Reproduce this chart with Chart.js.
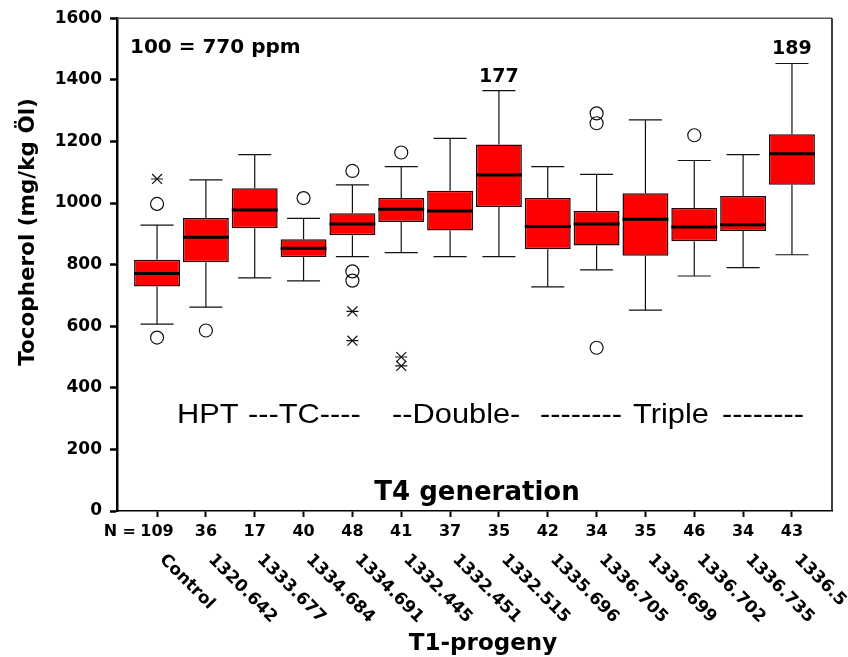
<!DOCTYPE html>
<html>
<head>
<meta charset="utf-8">
<script src="https://cdn.jsdelivr.net/npm/chart.js@4.4.1/dist/chart.umd.min.js"></script>
<style>
  html, body { margin: 0; padding: 0; background: #fff; }
  #wrap { width: 848px; height: 657px; }
</style>
</head>
<body>
<div id="wrap"><canvas id="graphique"></canvas></div>
<script>
// T1 progeny lines and sample sizes
var labels = ["Control", "1320.642", "1333.677", "1334.684", "1334.691", "1332.445", "1332.451",
  "1332.515", "1335.696", "1336.705", "1336.699", "1336.702", "1336.735", "1336.5"];
var nCounts = [109, 36, 17, 40, 48, 41, 37, 35, 42, 34, 35, 46, 34, 43];

// box statistics (mg/kg oil)
var q1 = [729, 808, 918, 825, 895, 938, 911, 987, 850, 862, 829, 876, 909, 1059];
var median = [771, 889, 977, 853, 932, 980, 974, 1091, 924, 932, 947, 922, 929, 1160];
var q3 = [816, 951, 1048, 882, 967, 1016, 1040, 1190, 1016, 974, 1032, 984, 1023, 1223];
var whiskLo = [607, 662, 757, 747, 826, 839, 826, 826, 728, 783, 652, 763, 790, 832];
var whiskHi = [928, 1075, 1157, 950, 1059, 1118, 1210, 1365, 1118, 1093, 1270, 1138, 1157, 1453];

// outliers [line index, value]
var circleOutliers = [[0, 997], [0, 563], [1, 586], [3, 1016], [4, 1104], [4, 778], [4, 748],
  [5, 1164], [9, 1291], [9, 1259], [9, 530], [11, 1220]];
var starOutliers = [[0, 1078], [4, 648], [4, 553], [5, 500], [5, 471]];

// relative values written above two whiskers
var topIdx = [7, 13];
var topText = ["177", "189"];

var yTicks = [0, 200, 400, 600, 800, 1000, 1200, 1400, 1600];

var boxData = labels.map(function (l, i) { return { x: i, y: [q1[i], q3[i]] }; });
var circlePts = circleOutliers.map(function (p) { return { x: p[0], y: p[1] }; });
var starPts = starOutliers.map(function (p) { return { x: p[0], y: p[1] }; });

function bold(s) { return "bold " + s + "px 'DejaVu Sans'"; }

var boxPlugin = {
  id: "boxplot",
  beforeDatasetsDraw: function (chart) {
    var ctx = chart.ctx;
    var xs = chart.scales.x, ys = chart.scales.y;
    var bars = chart.getDatasetMeta(0).data;
    ctx.save();
    ctx.strokeStyle = "#111";
    ctx.lineWidth = 1.2;
    for (var i = 0; i < labels.length; i++) {
      var x = xs.getPixelForValue(i);
      var cap = bars[i].width * 0.72 / 2;
      ctx.beginPath();
      ctx.moveTo(x, ys.getPixelForValue(q3[i]));
      ctx.lineTo(x, ys.getPixelForValue(whiskHi[i]));
      ctx.moveTo(x - cap, ys.getPixelForValue(whiskHi[i]));
      ctx.lineTo(x + cap, ys.getPixelForValue(whiskHi[i]));
      ctx.moveTo(x, ys.getPixelForValue(q1[i]));
      ctx.lineTo(x, ys.getPixelForValue(whiskLo[i]));
      ctx.moveTo(x - cap, ys.getPixelForValue(whiskLo[i]));
      ctx.lineTo(x + cap, ys.getPixelForValue(whiskLo[i]));
      ctx.stroke();
    }
    ctx.restore();
  },
  afterDatasetsDraw: function (chart) {
    var ctx = chart.ctx;
    var xs = chart.scales.x, ys = chart.scales.y;
    var a = chart.chartArea;
    var bars = chart.getDatasetMeta(0).data;
    ctx.save();
    // medians
    ctx.strokeStyle = "#000";
    ctx.lineWidth = 3;
    for (var i = 0; i < labels.length; i++) {
      var x = xs.getPixelForValue(i);
      var hw = bars[i].width / 2;
      var y = ys.getPixelForValue(median[i]);
      ctx.beginPath();
      ctx.moveTo(x - hw, y);
      ctx.lineTo(x + hw, y);
      ctx.stroke();
    }
    // frame top and right
    ctx.lineWidth = 1.5;
    ctx.strokeStyle = "#555";
    ctx.beginPath();
    ctx.moveTo(a.left, a.top);
    ctx.lineTo(a.right, a.top);
    ctx.stroke();
    ctx.strokeStyle = "#000";
    ctx.beginPath();
    ctx.moveTo(a.right, a.top);
    ctx.lineTo(a.right, a.bottom);
    ctx.stroke();

    ctx.fillStyle = "#000";
    ctx.textBaseline = "alphabetic";
    // values above whiskers
    ctx.font = bold(19);
    ctx.textAlign = "center";
    for (var k = 0; k < topIdx.length; k++) {
      var j = topIdx[k];
      ctx.fillText(topText[k], xs.getPixelForValue(j), ys.getPixelForValue(whiskHi[j]) - 9);
    }
    // reference note
    ctx.textAlign = "left";
    ctx.font = bold(20);
    ctx.fillText("100 = 770 ppm", a.left + 13, a.top + 35);
    // group labels (slightly wide, like the original)
    ctx.font = "28px 'Liberation Sans'";
    var segs = [["HPT", 177], ["---TC----", 248], ["--Double-", 392], ["--------", 540], ["Triple", 633], ["--------", 722]];
    segs.forEach(function (s) {
      ctx.save();
      ctx.translate(s[1], 423);
      ctx.scale(1.1, 1);
      ctx.fillText(s[0], 0, 0);
      ctx.restore();
    });
    // T4 generation
    ctx.textAlign = "center";
    ctx.font = bold(26);
    ctx.fillText("T4 generation", 477, 500);
    // N =
    ctx.textAlign = "right";
    ctx.textBaseline = "middle";
    ctx.font = bold(16);
    ctx.fillText("N =", 136, 532);
    // rotated line names
    ctx.textAlign = "left";
    ctx.font = bold(17);
    for (var m = 0; m < labels.length; m++) {
      ctx.save();
      ctx.translate(xs.getPixelForValue(m) + 5, 557);
      ctx.rotate(Math.PI / 4);
      ctx.fillText(labels[m], 0, 0);
      ctx.restore();
    }
    // axis titles
    ctx.textAlign = "center";
    ctx.textBaseline = "alphabetic";
    ctx.font = bold(23);
    ctx.fillText("T1-progeny", 483, 650);
    ctx.save();
    ctx.translate(28, 232);
    ctx.rotate(-Math.PI / 2);
    ctx.textBaseline = "middle";
    ctx.font = bold(21.5);
    ctx.fillText("Tocopherol (mg/kg Öl)", 0, 0);
    ctx.restore();
    ctx.restore();
  }
};

new Chart(document.getElementById("graphique"), {
  type: "bar",
  data: {
    datasets: [
      {
        label: "box",
        data: boxData,
        backgroundColor: "#ff0000",
        borderColor: "#2a0000",
        borderWidth: 1.5,
        borderSkipped: false,
        barPercentage: 0.94,
        categoryPercentage: 1.0,
        order: 2
      },
      {
        type: "scatter",
        label: "circles",
        data: circlePts,
        pointStyle: "circle",
        pointRadius: 6.5,
        pointBackgroundColor: "rgba(255,255,255,0)",
        pointBorderColor: "#111",
        pointBorderWidth: 1.2,
        order: 1
      },
      {
        type: "scatter",
        label: "stars",
        data: starPts,
        pointStyle: "crossRot",
        pointRadius: 7,
        pointBorderColor: "#111",
        pointBorderWidth: 1.2,
        order: 1
      },
      {
        type: "scatter",
        label: "stars2",
        data: starPts,
        pointStyle: "line",
        pointRadius: 6,
        pointBorderColor: "#111",
        pointBorderWidth: 1.2,
        order: 1
      }
    ]
  },
  options: {
    responsive: true,
    maintainAspectRatio: false,
    animation: false,
    layout: { padding: { top: 17, right: 16, left: 0, bottom: 0 } },
    plugins: { legend: { display: false }, tooltip: { enabled: false } },
    scales: {
      x: {
        type: "linear",
        min: -0.82,
        max: 13.82,
        offset: false,
        afterBuildTicks: function (s) {
          s.ticks = labels.map(function (l, i) { return { value: i }; });
        },
        afterFit: function (s) { s.height = 146; },
        ticks: {
          autoSkip: false,
          maxRotation: 0,
          minRotation: 0,
          padding: 5,
          color: "#000",
          font: { family: "'DejaVu Sans'", size: 16, weight: "bold" },
          callback: function (v) { return String(nCounts[v]); }
        },
        grid: { drawOnChartArea: false, offset: false, tickLength: 6, tickColor: "#000", tickWidth: 2 },
        border: { display: true, color: "#000", width: 1.5 }
      },
      y: {
        min: 0,
        max: 1600,
        afterBuildTicks: function (s) {
          s.ticks = yTicks.map(function (v) { return { value: v }; });
        },
        afterFit: function (s) { s.width = 117; },
        ticks: {
          padding: 8,
          color: "#000",
          font: { family: "'DejaVu Sans'", size: 17, weight: "bold" },
          callback: function (v) { return String(v); }
        },
        grid: { drawOnChartArea: false, tickLength: 7, tickColor: "#000", tickWidth: 2.5 },
        border: { display: true, color: "#000", width: 2.5 }
      }
    }
  },
  plugins: [boxPlugin]
});
</script>
</body>
</html>
